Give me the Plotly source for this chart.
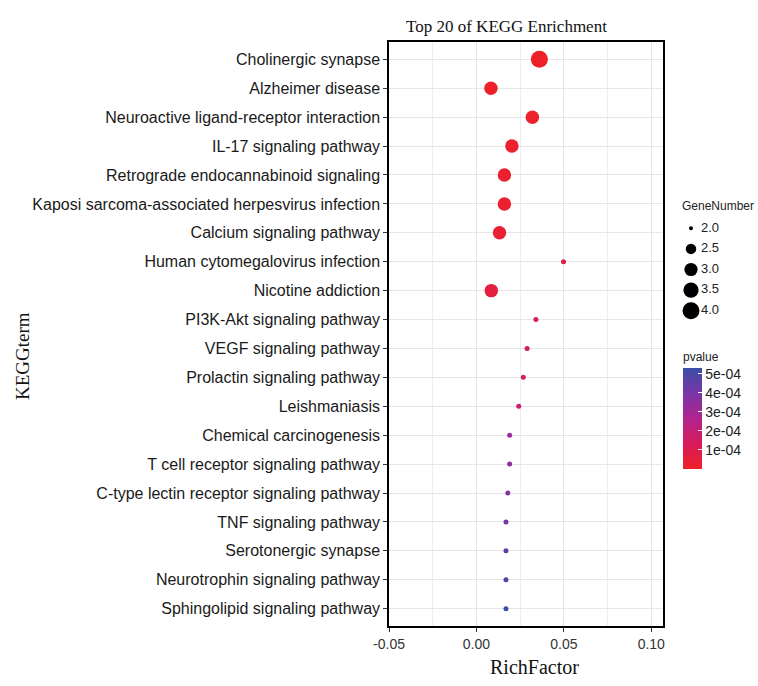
import plotly.graph_objects as go
import numpy as np

terms = [
    "Cholinergic synapse",
    "Alzheimer disease",
    "Neuroactive ligand-receptor interaction",
    "IL-17 signaling pathway",
    "Retrograde endocannabinoid signaling",
    "Kaposi sarcoma-associated herpesvirus infection",
    "Calcium signaling pathway",
    "Human cytomegalovirus infection",
    "Nicotine addiction",
    "PI3K-Akt signaling pathway",
    "VEGF signaling pathway",
    "Prolactin signaling pathway",
    "Leishmaniasis",
    "Chemical carcinogenesis",
    "T cell receptor signaling pathway",
    "C-type lectin receptor signaling pathway",
    "TNF signaling pathway",
    "Serotonergic synapse",
    "Neurotrophin signaling pathway",
    "Sphingolipid signaling pathway",
]
rich_factor = [0.036, 0.0083, 0.032, 0.0203, 0.016, 0.016, 0.0132, 0.0498, 0.0085, 0.034,
               0.029, 0.0268, 0.0242, 0.019, 0.019, 0.018, 0.0169, 0.0169, 0.0169, 0.0169]
gene_number = [4, 3, 3, 3, 3, 3, 3, 2, 3, 2, 2, 2, 2, 2, 2, 2, 2, 2, 2, 2]
pvalue = [1e-6, 5e-6, 1e-5, 2e-5, 2e-5, 2e-5, 3e-5, 9e-5, 6e-5, 1.3e-4,
          1.5e-4, 1.6e-4, 1.8e-4, 3.2e-4, 3.3e-4, 3.7e-4, 4.2e-4, 4.5e-4, 4.8e-4, 5.3e-4]

x_ticks = [-0.05, 0.00, 0.05, 0.10]
x_tick_labels = ["-0.05", "0.00", "0.05", "0.10"]
size_legend_values = [2.0, 2.5, 3.0, 3.5, 4.0]
size_legend_labels = ["2.0", "2.5", "3.0", "3.5", "4.0"]
p_ticks = [1e-4, 2e-4, 3e-4, 4e-4, 5e-4]
p_tick_labels = ["1e-04", "2e-04", "3e-04", "4e-04", "5e-04"]

W, H = 758, 686
PL, PR, PT, PB = 389, 663, 42, 626


def px_x(v):
    return v / W


def px_y(v):
    return 1 - v / H


def diam(g, base, span=12):
    return base + span * np.sqrt((np.asarray(g, dtype=float) - 2) / 2)


colorscale = [
    [0.0, "#EE2128"],
    [0.25, "#D81B5A"],
    [0.5, "#B0248E"],
    [0.75, "#7B35A6"],
    [1.0, "#3B4EA8"],
]

fig = go.Figure()

fig.add_trace(go.Scatter(
    x=rich_factor, y=terms, mode="markers",
    marker=dict(
        size=diam(gene_number, 5), opacity=1,
        color=pvalue, cmin=0, cmax=5.3e-4, colorscale=colorscale,
        line=dict(width=0),
        colorbar=dict(
            x=px_x(683), xanchor="left", xpad=0, ypad=0,
            y=px_y(409), yanchor="middle",
            thickness=19, thicknessmode="pixels",
            len=120, lenmode="pixels",
            outlinewidth=0,
            tickvals=p_ticks, ticktext=p_tick_labels,
            ticks="inside", ticklen=4, tickcolor="white", tickwidth=1,
            tickfont=dict(family="Liberation Sans", size=14, color="#222"),
            title=dict(text="pvalue", side="top",
                       font=dict(family="Liberation Sans", size=12, color="#222")),
        ),
    ),
    showlegend=False, hoverinfo="x+y",
))

# size legend drawn on its own hidden axes
fig.add_trace(go.Scatter(
    x=[0] * len(size_legend_values), y=size_legend_values,
    mode="markers",
    marker=dict(size=diam(size_legend_values, 4, 13), color="black", opacity=1, line=dict(width=0)),
    xaxis="x2", yaxis="y2", showlegend=False, hoverinfo="skip", cliponaxis=False,
))
fig.add_trace(go.Scatter(
    x=[10] * len(size_legend_values), y=size_legend_values,
    mode="text", text=size_legend_labels, textposition="middle right",
    textfont=dict(family="Liberation Sans", size=13, color="#222"),
    xaxis="x2", yaxis="y2", showlegend=False, hoverinfo="skip", cliponaxis=False,
))

n = len(terms)
fig.update_layout(
    width=W, height=H,
    margin=dict(l=0, r=0, t=0, b=0, autoexpand=False),
    paper_bgcolor="white", plot_bgcolor="white",
    xaxis=dict(
        domain=[px_x(PL), px_x(PR)],
        range=[-0.05, 0.1067], automargin=False,
        tickvals=x_ticks, ticktext=x_tick_labels,
        ticks="outside", ticklen=4, tickcolor="#333", tickwidth=1,
        tickfont=dict(family="Liberation Sans", size=14, color="#333"),
        showgrid=True, gridcolor="#E6E6E6", gridwidth=1,
        minor=dict(dtick=0.025, tick0=-0.05, showgrid=True, gridcolor="#EDEDED", gridwidth=1),
        showline=True, linecolor="black", linewidth=1.5, mirror=True,
        zeroline=False,
    ),
    yaxis=dict(
        domain=[px_y(PB), px_y(PT)], automargin=False,
        categoryorder="array", categoryarray=terms,
        range=[n - 0.4, -0.6],
        ticks="outside", ticklen=4, tickcolor="#333", tickwidth=1,
        tickfont=dict(family="Liberation Sans", size=16, color="#1a1a1a"),
        showgrid=True, gridcolor="#E6E6E6", gridwidth=1,
        showline=True, linecolor="black", linewidth=1.5, mirror=True,
        zeroline=False,
    ),
    xaxis2=dict(
        domain=[px_x(681), px_x(758)], anchor="y2",
        range=[-10, 67], visible=False, fixedrange=True,
    ),
    yaxis2=dict(
        domain=[px_y(321), px_y(218)], anchor="x2",
        range=[4.25, 1.75], visible=False, fixedrange=True,
    ),
    annotations=[
        dict(text="Top 20 of KEGG Enrichment", x=px_x(506), y=px_y(27),
             xanchor="center", yanchor="middle",
             xref="paper", yref="paper", showarrow=False,
             font=dict(family="Liberation Serif", size=17, color="#111")),
        dict(text="RichFactor", x=px_x(534), y=px_y(667),
             xanchor="center", yanchor="middle",
             xref="paper", yref="paper", showarrow=False,
             font=dict(family="Liberation Serif", size=20, color="#111")),
        dict(text="KEGGterm", x=px_x(22), y=px_y(356), textangle=-90,
             xanchor="center", yanchor="middle",
             xref="paper", yref="paper", showarrow=False,
             font=dict(family="Liberation Serif", size=19, color="#111")),
        dict(text="GeneNumber", x=px_x(680), y=px_y(206),
             xanchor="left", yanchor="middle",
             xref="paper", yref="paper", showarrow=False,
             font=dict(family="Liberation Sans", size=12, color="#222")),
    ],
)

fig.write_html(
    "out.html",
    config={"displayModeBar": False},
    post_script="document.body.style.margin='0px';document.body.style.overflow='hidden';",
)
